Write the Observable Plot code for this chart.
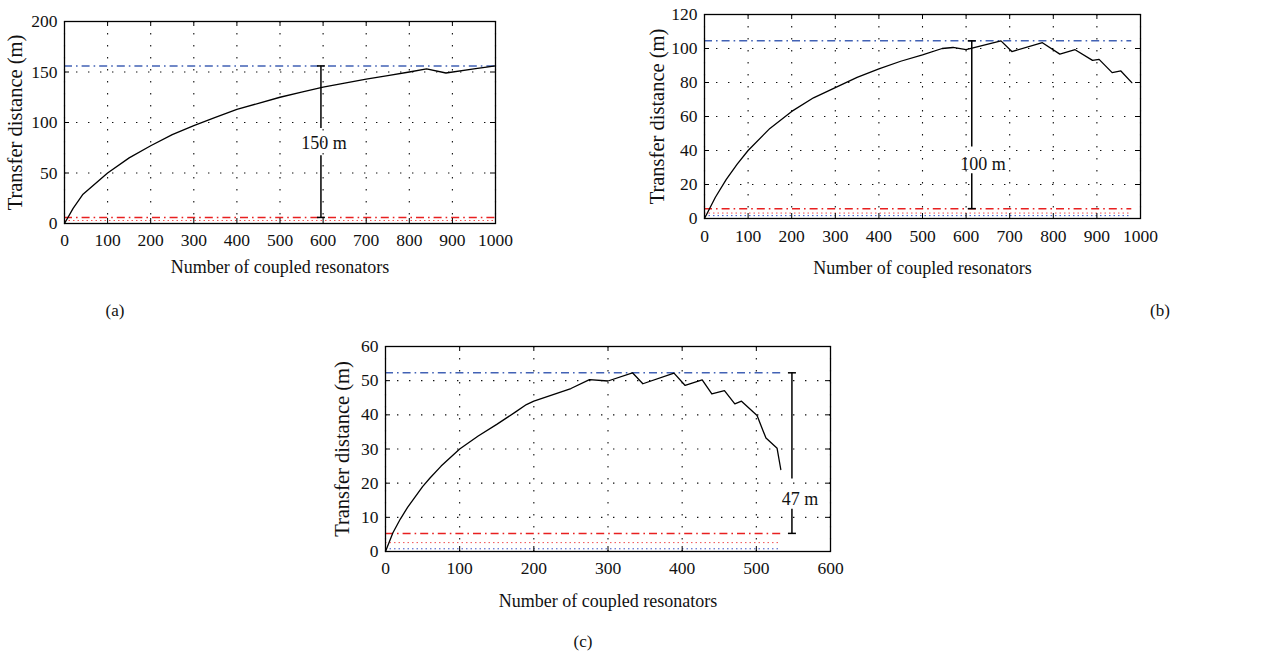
<!DOCTYPE html>
<html><head><meta charset="utf-8">
<script src="https://cdn.jsdelivr.net/npm/d3@7"></script>
<script src="https://cdn.jsdelivr.net/npm/@observablehq/plot@0.6"></script>
<style>
body{margin:0;background:#fff;font-family:"Liberation Serif",serif;}
#root{position:relative;width:1273px;height:654px;overflow:hidden;}
.panel{position:absolute;}
.tag{position:absolute;font-size:17px;transform:translate(-50%,-50%);font-family:"Liberation Serif",serif;color:#111;}
</style></head><body><div id="root"></div>
<script>
// ---------- Panel (a) ----------
const resA  = [0, 20, 43, 100, 150, 200, 250, 300, 350, 400, 450, 500, 550, 600, 650, 700, 750, 800, 840, 885, 950, 1000];
const distA = [0, 15, 29, 50, 65, 77, 88, 97, 105, 113, 119, 125, 130, 135, 139, 143, 146.5, 150, 153, 149, 153, 156];
const xTicksA = [0, 100, 200, 300, 400, 500, 600, 700, 800, 900, 1000];
const yTicksA = [0, 50, 100, 150, 200];
const blueDashA = 156, redDashA = 6, redDotA = 3, blueDotA = null;
const barXA = 595, barLowA = 6, barHighA = 156, gapA = [67, 94];
const labelA = "150 m", labelXA = 602, labelYA = 79;

// ---------- Panel (b) ----------
const resB  = [0, 10, 25, 50, 75, 100, 150, 200, 250, 300, 350, 400, 450, 500, 545, 570, 600, 680, 705, 775, 815, 850, 890, 905, 935, 955, 980];
const distB = [0, 5, 12.5, 23, 32, 40, 53, 63, 71, 77, 83, 88, 92.5, 96.3, 100, 100.6, 99.3, 104.5, 98.2, 103.4, 96.7, 99.3, 93, 93.6, 85.8, 86.8, 79.9];
const xTicksB = [0, 100, 200, 300, 400, 500, 600, 700, 800, 900, 1000];
const yTicksB = [0, 20, 40, 60, 80, 100, 120];
const blueDashB = 104.5, redDashB = 5.8, redDotB = 3.2, blueDotB = 1.7;
const barXB = 613, barLowB = 5.8, barHighB = 104.5, gapB = [26.3, 42];
const labelB = "100 m", labelXB = 639, labelYB = 32;

// ---------- Panel (c) ----------
const resC  = [0, 10, 20, 30, 40, 50, 60, 75, 100, 125, 150, 175, 190, 200, 250, 275, 300, 333, 347, 389, 404, 427, 440, 457, 471, 480, 501, 506, 513, 528, 533];
const distC = [0, 5.5, 9.5, 13, 16, 19, 21.5, 25, 30, 33.8, 37.2, 40.8, 43, 44, 47.7, 50.3, 49.9, 52.3, 49.1, 52.2, 48.6, 50.2, 46.1, 47.1, 43.2, 44, 39.8, 37, 33.2, 30.2, 24];
const xTicksC = [0, 100, 200, 300, 400, 500, 600];
const yTicksC = [0, 10, 20, 30, 40, 50, 60];
const blueDashC = 52.3, redDashC = 5.3, redDotC = 2.6, blueDotC = 0.8;
const barXC = 548, barLowC = 5.3, barHighC = 52.3, gapC = [12.4, 21.2];
const labelC = "47 m", labelXC = 559, labelYC = 15.3;

const xTitle = "Number of coupled resonators";
const yTitle = "Transfer distance (m)";

const hline = {draw(ctx, size) { const r = Math.sqrt(size / Math.PI); ctx.moveTo(-r, 0); ctx.lineTo(r, 0); }};

function drawPanel(c) {
  const pw = c.width - c.ml - c.mr, ph = c.height - c.mt - c.mb;
  const curve = c.res.map((r, i) => ({x: r, y: c.dist[i]}));
  const xEnd = c.res[c.res.length - 1];
  const lvl = (v, stroke, dash, w) => v == null ? null :
    Plot.ruleY([{y: v, x1: 0, x2: xEnd}], {y: "y", x1: "x1", x2: "x2", stroke, strokeDasharray: dash, strokeWidth: w});
  const segs = [{x: c.barX, y1: c.barLow, y2: c.gap[0]}, {x: c.barX, y1: c.gap[1], y2: c.barHigh}];
  const ends = [{x: c.barX, y: c.barLow}, {x: c.barX, y: c.barHigh}];
  const grid = {stroke: "#111", strokeOpacity: 1, strokeDasharray: "1.4,10.6", strokeWidth: 1.1};
  const plot = Plot.plot({
    width: c.width, height: c.height,
    marginLeft: c.ml, marginRight: c.mr, marginTop: c.mt, marginBottom: c.mb,
    style: {fontFamily: "Liberation Serif, serif", fontSize: "17.5px", background: "transparent", color: "#111"},
    x: {domain: c.xDomain},
    y: {domain: c.yDomain},
    marks: [
      Plot.gridX(c.xTicks, grid),
      Plot.gridY(c.yTicks, grid),
      lvl(c.blueDot, "#3d55c8", "1.5,3", 1),
      lvl(c.redDot, "#f05050", "1.5,3", 1),
      lvl(c.redDash, "#e82020", "8,4,1.6,4", 1.5),
      lvl(c.blueDash, "#4262b5", "8,4,1.6,4", 1.5),
      Plot.line(curve, {x: "x", y: "y", stroke: "black", strokeWidth: 1.3}),
      Plot.ruleX(segs, {x: "x", y1: "y1", y2: "y2", stroke: "black", strokeWidth: 1.5}),
      Plot.dot(ends, {x: "x", y: "y", symbol: hline, r: 4, stroke: "black", strokeWidth: 1.5, fill: "none"}),
      Plot.text([{x: c.labelX, y: c.labelY, t: c.label}], {x: "x", y: "y", text: "t", fontSize: 18, fill: "#111"}),
      Plot.tickX(c.xTicks, {x: d => d, insetTop: ph - 5, stroke: "black"}),
      Plot.tickX(c.xTicks, {x: d => d, insetBottom: ph - 5, stroke: "black"}),
      Plot.tickY(c.yTicks, {y: d => d, insetRight: pw - 5, stroke: "black"}),
      Plot.tickY(c.yTicks, {y: d => d, insetLeft: pw - 5, stroke: "black"}),
      Plot.frame({stroke: "black", strokeWidth: 1.3}),
      Plot.axisX(c.xTicks, {tickSize: 0, tickPadding: c.xpad, tickFormat: d => String(d), label: null}),
      Plot.axisY(c.yTicks, {tickSize: 0, tickPadding: 7, tickFormat: d => String(d), label: null}),
      Plot.text([xTitle], {text: d => d, frameAnchor: "bottom", dy: c.xTitleDy, textAnchor: "middle", lineAnchor: "middle", fontSize: 18, fill: "#111"}),
      Plot.text([yTitle], {text: d => d, frameAnchor: "left", dx: c.yTitleDx, rotate: -90, textAnchor: "middle", lineAnchor: "middle", fontSize: 20.5, fill: "#111"})
    ]
  });
  const div = document.createElement("div");
  div.className = "panel";
  div.style.left = c.left + "px";
  div.style.top = c.top + "px";
  div.appendChild(plot);
  document.getElementById("root").appendChild(div);
  const tag = document.createElement("div");
  tag.className = "tag";
  tag.textContent = c.tag;
  tag.style.left = c.tagX + "px";
  tag.style.top = c.tagY + "px";
  document.getElementById("root").appendChild(tag);
}

drawPanel({left: 0, top: 0, width: 520, height: 293, ml: 64, mr: 25, mt: 21, mb: 70,
  xDomain: [0, 1000], yDomain: [0, 200], res: resA, dist: distA, xTicks: xTicksA, yTicks: yTicksA,
  blueDash: blueDashA, redDash: redDashA, redDot: redDotA, blueDot: blueDotA,
  barX: barXA, barLow: barLowA, barHigh: barHighA, gap: gapA, label: labelA, labelX: labelXA, labelY: labelYA,
  xpad: 10, xTitleDy: 44, yTitleDx: -49, tag: "(a)", tagX: 115, tagY: 311});

drawPanel({left: 640, top: 0, width: 525, height: 288, ml: 64, mr: 25, mt: 14, mb: 70,
  xDomain: [0, 1000], yDomain: [0, 120], res: resB, dist: distB, xTicks: xTicksB, yTicks: yTicksB,
  blueDash: blueDashB, redDash: redDashB, redDot: redDotB, blueDot: blueDotB,
  barX: barXB, barLow: barLowB, barHigh: barHighB, gap: gapB, label: labelB, labelX: labelXB, labelY: labelYB,
  xpad: 11, xTitleDy: 50, yTitleDx: -47, tag: "(b)", tagX: 1160, tagY: 311});

drawPanel({left: 321, top: 330, width: 534, height: 291, ml: 64, mr: 25, mt: 16, mb: 70,
  xDomain: [0, 600], yDomain: [0, 60], res: resC, dist: distC, xTicks: xTicksC, yTicks: yTicksC,
  blueDash: blueDashC, redDash: redDashC, redDot: redDotC, blueDot: blueDotC,
  barX: barXC, barLow: barLowC, barHigh: barHighC, gap: gapC, label: labelC, labelX: labelXC, labelY: labelYC,
  xpad: 10, xTitleDy: 50, yTitleDx: -43, tag: "(c)", tagX: 583, tagY: 642});
</script></body></html>
